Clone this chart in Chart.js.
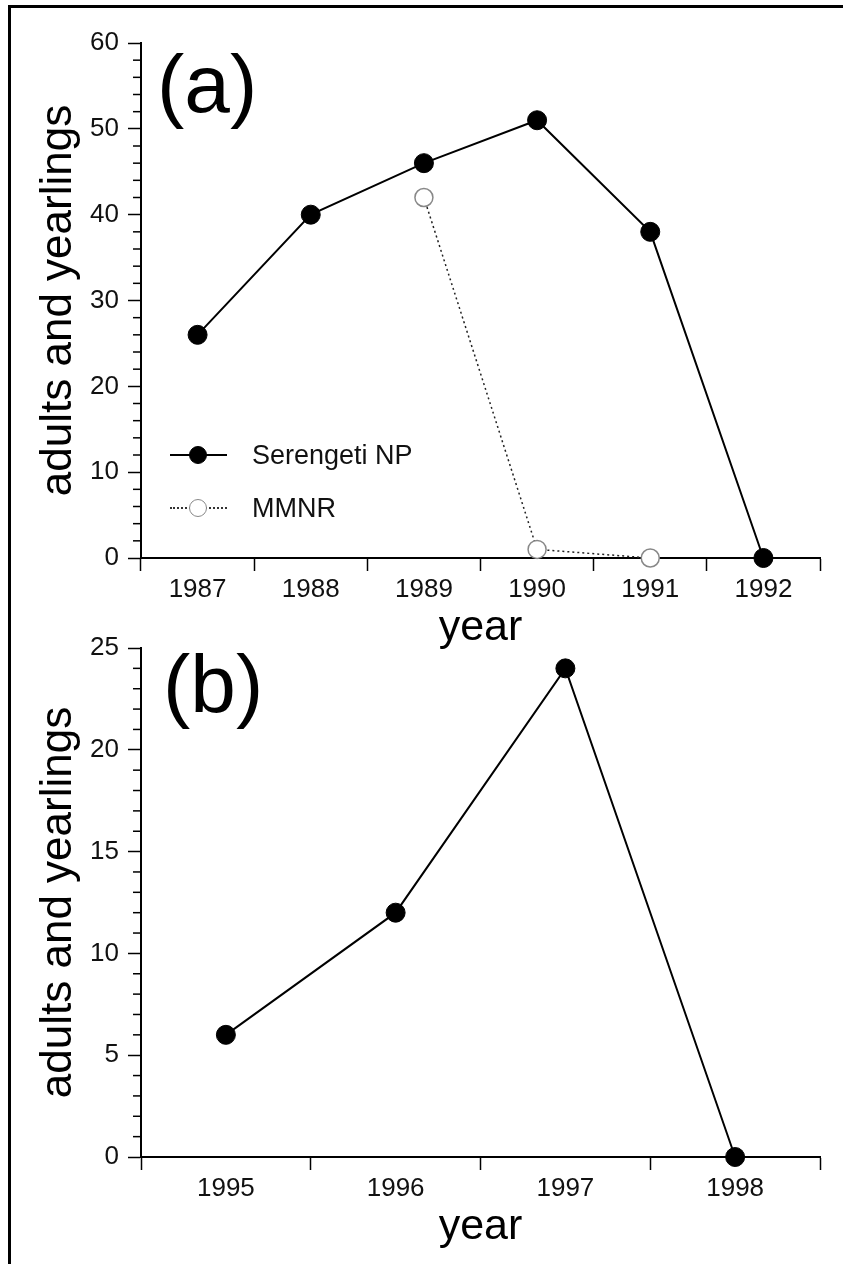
<!DOCTYPE html>
<html>
<head>
<meta charset="utf-8">
<script src="https://cdn.jsdelivr.net/npm/chart.js@4.4.1/dist/chart.umd.min.js"></script>
<style>
  body { margin: 0; background: #fff; }
  #page { position: relative; width: 843px; height: 1264px; overflow: hidden; background: #fff;
          font-family: "Liberation Sans", Arial, Helvetica, sans-serif; }
  #frame { position: absolute; left: 8px; top: 5px; width: 900px; height: 1300px;
           border-top: 3px solid #000; border-left: 3px solid #000; }
  .panel { position: absolute; left: 0; }
  .tag { position: absolute; font-size: 82px; line-height: 82px; color: #000; }
  .legend-row { position: absolute; left: 170px; height: 30px; display: flex; align-items: center; }
  .legend-sym { position: relative; width: 57px; height: 30px; }
  .legend-line { position: absolute; left: 0; right: 0; top: 14px; }
  .legend-dot { position: absolute; left: 19px; top: 6px; width: 18px; height: 18px;
                border-radius: 50%; box-sizing: border-box; }
  .legend-text { margin-left: 25px; font-size: 27px; color: #111; }
</style>
</head>
<body>
<div id="page">
  <div id="frame"></div>
  <div class="panel" style="top:0"><canvas id="chartA" width="843" height="660"></canvas></div>
  <div class="panel" style="top:599px"><canvas id="chartB" width="843" height="660"></canvas></div>
  <div class="tag" style="left:157px; top:43px">(a)</div>
  <div class="tag" style="left:163px; top:643px">(b)</div>
  <div id="legendA"></div>
</div>
<script>
// panel (a)
const yearsA = ['1987', '1988', '1989', '1990', '1991', '1992'];
const serengetiA = [26, 40, 46, 51, 38, 0];
const mmnrA = [null, null, 42, 1, 0, null];
const yLabelsA = [0, 10, 20, 30, 40, 50, 60];
const yMinorA = 2;

// panel (b)
const yearsB = ['1995', '1996', '1997', '1998'];
const serengetiB = [6, 12, 24, 0];
const yLabelsB = [0, 5, 10, 15, 20, 25];
const yMinorB = 1;

Chart.defaults.font.family = '"Liberation Sans", Arial, Helvetica, sans-serif';

// short minor ticks on the y axis
const minorTicks = {
    id: 'minorTicks',
    afterDraw(chart, args, opts) {
        const y = chart.scales.y;
        const ctx = chart.ctx;
        ctx.save();
        ctx.strokeStyle = '#000';
        ctx.lineWidth = 1.5;
        y.ticks.forEach(t => {
            if (!opts.labels.includes(t.value)) {
                const py = y.getPixelForValue(t.value);
                ctx.beginPath();
                ctx.moveTo(y.right - 8, py);
                ctx.lineTo(y.right, py);
                ctx.stroke();
            }
        });
        ctx.restore();
    }
};

function serengetiSet(data) {
    return {
        label: 'Serengeti NP',
        data: data,
        borderColor: '#000',
        borderWidth: 2,
        pointRadius: 9.5,
        pointHoverRadius: 9.5,
        pointBackgroundColor: '#000',
        pointBorderColor: '#000',
        pointBorderWidth: 1,
        tension: 0,
        clip: false
    };
}

function makePanel(id, labels, datasets, yLabels, minorStep, padTop) {
    return new Chart(document.getElementById(id), {
        type: 'line',
        data: { labels: labels, datasets: datasets },
        options: {
            responsive: false,
            animation: false,
            events: [],
            layout: { padding: { top: padTop, right: 23, left: 0, bottom: 0 } },
            plugins: {
                legend: { display: false },
                tooltip: { enabled: false },
                minorTicks: { labels: yLabels }
            },
            scales: {
                x: {
                    type: 'category',
                    offset: true,
                    grid: { offset: true, drawOnChartArea: false, tickLength: 13, tickColor: '#000', tickWidth: 1.5 },
                    border: { color: '#000', width: 2 },
                    ticks: { padding: 3, color: '#111', font: { size: 26 }, maxRotation: 0 },
                    title: { display: true, text: 'year', color: '#000', font: { size: 43 }, padding: { top: 0, bottom: 6 } },
                    afterFit: s => { s.height = 102; }
                },
                y: {
                    min: 0,
                    max: yLabels[yLabels.length - 1],
                    grid: {
                        drawOnChartArea: false,
                        tickLength: 13,
                        tickWidth: 1.5,
                        tickColor: c => yLabels.includes(c.tick.value) ? '#000' : 'rgba(0,0,0,0)'
                    },
                    border: { color: '#000', width: 2 },
                    ticks: {
                        stepSize: minorStep,
                        autoSkip: false,
                        padding: 9,
                        color: '#111',
                        font: { size: 26 },
                        callback: v => yLabels.includes(v) ? v : ''
                    },
                    title: { display: true, text: 'adults and yearlings', color: '#000', font: { size: 44 }, padding: { top: 32, bottom: 0 } },
                    afterFit: s => { s.width = 141; }
                }
            }
        },
        plugins: [minorTicks]
    });
}

const chartA = makePanel('chartA', yearsA, [
    serengetiSet(serengetiA),
    {
        label: 'MMNR',
        data: mmnrA,
        borderColor: '#222',
        borderWidth: 1.5,
        borderDash: [2, 3],
        pointRadius: 9,
        pointHoverRadius: 9,
        pointBackgroundColor: '#fff',
        pointBorderColor: '#888',
        pointBorderWidth: 1.5,
        tension: 0,
        clip: false
    }
], yLabelsA, yMinorA, 43);

const chartB = makePanel('chartB', yearsB, [serengetiSet(serengetiB)], yLabelsB, yMinorB, 49);

// legend for panel (a), built from its datasets
const legendA = document.getElementById('legendA');
const rowCentres = [455, 508];
chartA.data.datasets.forEach((ds, i) => {
    const row = document.createElement('div');
    row.className = 'legend-row';
    row.style.top = (rowCentres[i] - 15) + 'px';
    const sym = document.createElement('div');
    sym.className = 'legend-sym';
    const line = document.createElement('div');
    line.className = 'legend-line';
    line.style.borderTop = ds.borderDash ? '2px dotted #333' : '2px solid #000';
    const dot = document.createElement('div');
    dot.className = 'legend-dot';
    dot.style.background = ds.pointBackgroundColor;
    dot.style.border = ds.pointBorderWidth + 'px solid ' + ds.pointBorderColor;
    sym.appendChild(line);
    sym.appendChild(dot);
    const text = document.createElement('span');
    text.className = 'legend-text';
    text.textContent = ds.label;
    row.appendChild(sym);
    row.appendChild(text);
    legendA.appendChild(row);
});
</script>
</body>
</html>
